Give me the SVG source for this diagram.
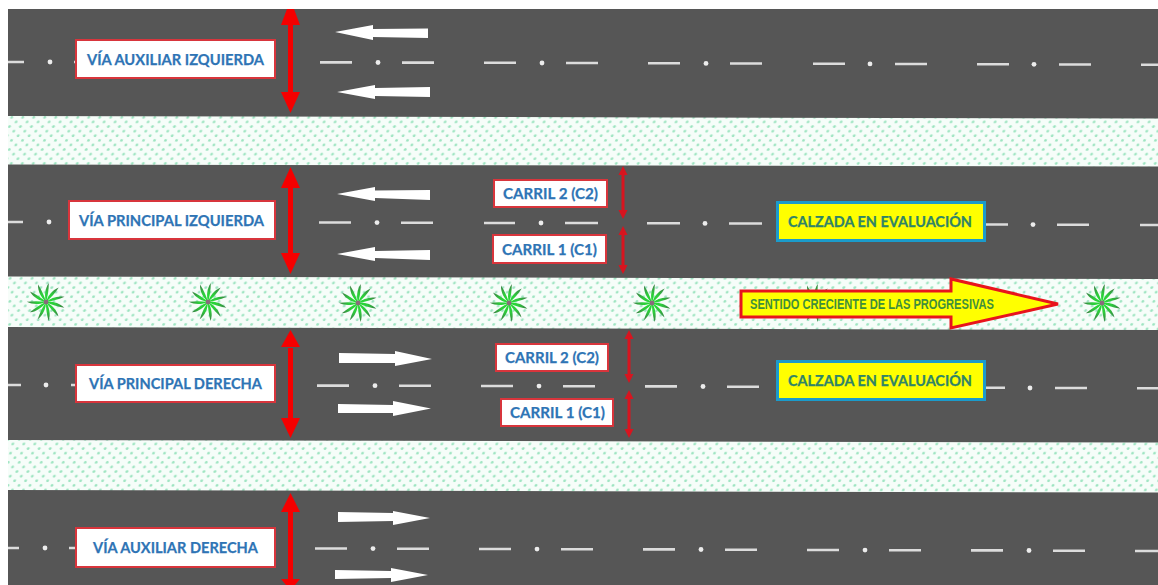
<svg xmlns="http://www.w3.org/2000/svg" width="1158" height="585" viewBox="0 0 1158 585">
<style>
.road{fill:#565656}
.dash{stroke:#dcdcdc;stroke-width:2.6;fill:none}
.dot{fill:#ececec}
.wa{fill:#fff}
.lab{fill:#fff;stroke:#d8353c;stroke-width:2}
.cal{fill:#ffff00;stroke:#1b9bcb;stroke-width:3}
.lt{font-family:Lato,"Open Sans","Liberation Sans",sans-serif;font-weight:700;font-size:15.5px;fill:#2e74b5;stroke:#2e74b5;stroke-width:.25}
.ct{font-family:Lato,"Open Sans","Liberation Sans",sans-serif;font-weight:700;font-size:15.5px;fill:#2f8468;stroke:#2f8468;stroke-width:.25}
.at{font-family:"Liberation Sans",Arial,sans-serif;font-weight:700;font-size:14px;fill:#3f8f3c}
.red{fill:#f50000}
.redl{stroke:#f50000;fill:none}
.redd{fill:#d8141f}
.reddl{stroke:#d8141f;stroke-width:3;fill:none}
</style>
<defs>
<pattern id="grass" width="11" height="9.2" patternUnits="userSpaceOnUse" patternTransform="skewX(-14)">
<rect width="11" height="9.2" fill="#f6fdf9"/>
<circle cx="2.500" cy="2.300" r="1.400" fill="#9ce4c0"/>
<circle cx="8" cy="6.900" r="1.400" fill="#9ce4c0"/>
</pattern>
<linearGradient id="blade" x1="0" y1="0" x2="0" y2="-19" gradientUnits="userSpaceOnUse">
<stop offset="0" stop-color="#1fe02f"/>
<stop offset=".5" stop-color="#2ecb3c"/>
<stop offset="1" stop-color="#3a7a44"/>
</linearGradient>
<path id="b" d="M0 0C-1.600 -6 -1.400 -13 2.800 -19C2.800 -12 1.800 -6 0 0Z" fill="url(#blade)"/>
<g id="palm">
<use href="#b"/><use href="#b" transform="rotate(33)"/><use href="#b" transform="rotate(66)"/><use href="#b" transform="rotate(99)"/><use href="#b" transform="rotate(131)"/><use href="#b" transform="rotate(164)"/><use href="#b" transform="rotate(197)"/><use href="#b" transform="rotate(229)"/><use href="#b" transform="rotate(262)"/><use href="#b" transform="rotate(295)"/><use href="#b" transform="rotate(327)"/>
<circle r="2.400" fill="#8a6a7c"/>
</g>
</defs>
<rect width="1158" height="585" fill="#fff"/>
<rect x="8" y="116" width="1150" height="378" fill="url(#grass)"/>
<g id="roads">
<polygon class="road" points="8,9 1158,9 1158,118.500 8,116"/>
<polygon class="road" points="8,164.500 1158,166.500 1158,279 8,276.500"/>
<polygon class="road" points="8,327 1158,330 1158,442.500 8,440"/>
<polygon class="road" points="8,490 1158,492.500 1158,585 8,585"/>
</g>
<g id="palms">
<use href="#palm" x="46" y="302"/>
<use href="#palm" x="208" y="302"/>
<use href="#palm" x="358" y="303"/>
<use href="#palm" x="509" y="303"/>
<use href="#palm" x="652" y="303"/>
<use href="#palm" x="815" y="303"/>
<use href="#palm" x="1102" y="303"/>
</g>
<g id="lane-lines">
<path class="dash" d="M8 62H24M74 62H76M320 62.400H352M402 62.600H434M484 62.800H516M566 63H598M648 63.300H680M730 63.500H762M813 63.800H845M895 64H927M977 64.200H1009M1059 64.500H1091M1141 64.800H1158"/>
<path class="dash" d="M8 222H23M319 222.500H351M401 222.700H433M484 223H515M565 223H598M647 223.300H680M729 223.500H762M985 224.500H1008M1057 224.700H1089M1140 225H1158"/>
<path class="dash" d="M8 385H21M71 385H76M317 385.600H349M399 385.800H431M481 386H513M563 386.200H595M645 386.400H677M727 386.700H759M985 387.800H1005M1055 388H1087M1137 388.300H1158"/>
<path class="dash" d="M8 548H19M69 548H76M315 548.500H347M397 548.800H429M479 549H511M561 549.200H593M643 549.400H675M725 549.700H757M807 550H839M889 550.200H921M971 550.400H1003M1053 550.700H1085M1135 551H1158"/>
<g class="dot">
<circle cx="50" cy="62" r="2.400"/><circle cx="378" cy="62.500" r="2.400"/><circle cx="542" cy="63" r="2.400"/><circle cx="706" cy="63.400" r="2.400"/><circle cx="870" cy="63.900" r="2.400"/><circle cx="1034" cy="64.300" r="2.400"/>
<circle cx="49" cy="222" r="2.400"/><circle cx="377" cy="222.600" r="2.400"/><circle cx="541" cy="223" r="2.400"/><circle cx="705" cy="223.400" r="2.400"/><circle cx="1033" cy="224.600" r="2.400"/>
<circle cx="46" cy="385" r="2.400"/><circle cx="375" cy="385.700" r="2.400"/><circle cx="539" cy="386.100" r="2.400"/><circle cx="703" cy="386.500" r="2.400"/><circle cx="1030" cy="388" r="2.400"/>
<circle cx="45" cy="548" r="2.400"/><circle cx="373" cy="548.600" r="2.400"/><circle cx="537" cy="549.100" r="2.400"/><circle cx="701" cy="549.500" r="2.400"/><circle cx="865" cy="550.100" r="2.400"/><circle cx="1029" cy="550.500" r="2.400"/>
</g>
</g>
<g id="connectors">
<g id="width-arrows">
<path class="redl" stroke-width="5" d="M290.500 20V95M290.500 185V255M290.500 348V420M290.500 510V585"/>
<polygon class="red" points="287,9 294,9 300,25 281,25"/><polygon class="red" points="281,92 300,92 290.500,113"/>
<polygon class="red" points="290.500,167 300,188 281,188"/><polygon class="red" points="281,253 300,253 290.500,274"/>
<polygon class="red" points="290.500,330 300,347 281,347"/><polygon class="red" points="281,418 300,418 290.500,438"/>
<polygon class="red" points="290.500,493 300,512 281,512"/><polygon class="red" points="281,579 300,579 295,585 286,585"/>
</g>
<g id="lane-arrows">
<path class="reddl" d="M623 170V215M623 230V270M629 334V379M629 394V434"/>
<polygon class="redd" points="623,166 627.500,175 618.500,175"/><polygon class="redd" points="618.500,210 627.500,210 623,219"/>
<polygon class="redd" points="623,226 627.500,235 618.500,235"/><polygon class="redd" points="618.500,265 627.500,265 623,274"/>
<polygon class="redd" points="629,330 633.500,339 624.500,339"/><polygon class="redd" points="624.500,374 633.500,374 629,383"/>
<polygon class="redd" points="629,390 633.500,399 624.500,399"/><polygon class="redd" points="624.500,429 633.500,429 629,438"/>
</g>
<g id="traffic-arrows">
<polygon class="wa" points="335,32 373,25 373,29 428,28.500 428,38 373,37 373,40"/>
<polygon class="wa" points="337,92 375,85 375,88 430,87 430,97 375,96 375,99"/>
<polygon class="wa" points="337,194 375,187 375,190.500 430,190 430,200 375,198 375,201"/>
<polygon class="wa" points="337,254 375,247 375,251 430,250 430,260 375,258 375,261"/>
<polygon class="wa" points="339,353 395,354 395,351 432,359 395,366 395,363 339,363"/>
<polygon class="wa" points="338,404 393,405 393,401 431,408.500 393,416 393,413 338,413"/>
<polygon class="wa" points="338,512 393,513 393,511 430,518 393,525 393,521 338,522"/>
<polygon class="wa" points="335,570 391,571 391,568 428,575 391,582 391,578 335,579"/>
</g>
</g>
<g id="via-aux-izq"><rect class="lab" x="76" y="40" width="199" height="38"/><text class="lt" x="87" y="64.500" textLength="177" lengthAdjust="spacingAndGlyphs">VÍA AUXILIAR IZQUIERDA</text></g>
<g id="via-pri-izq"><rect class="lab" x="69" y="201" width="206" height="38"/><text class="lt" x="79" y="225.500" textLength="185" lengthAdjust="spacingAndGlyphs">VÍA PRINCIPAL  IZQUIERDA</text></g>
<g id="via-pri-der"><rect class="lab" x="76" y="365" width="199" height="37"/><text class="lt" x="89" y="389" textLength="173" lengthAdjust="spacingAndGlyphs">VÍA PRINCIPAL  DERECHA</text></g>
<g id="via-aux-der"><rect class="lab" x="76" y="528" width="199" height="39"/><text class="lt" x="93" y="553" textLength="165" lengthAdjust="spacingAndGlyphs">VÍA AUXILIAR DERECHA</text></g>
<g id="c2-izq"><rect class="lab" x="494" y="180" width="113" height="27"/><text class="lt" x="503" y="199" textLength="95" lengthAdjust="spacingAndGlyphs">CARRIL 2 (C2)</text></g>
<g id="c1-izq"><rect class="lab" x="493" y="235" width="113" height="28"/><text class="lt" x="502" y="254.500" textLength="95" lengthAdjust="spacingAndGlyphs">CARRIL 1 (C1)</text></g>
<g id="c2-der"><rect class="lab" x="496" y="344" width="112" height="27"/><text class="lt" x="505" y="363" textLength="94" lengthAdjust="spacingAndGlyphs">CARRIL 2 (C2)</text></g>
<g id="c1-der"><rect class="lab" x="501" y="399" width="112" height="27"/><text class="lt" x="510" y="418" textLength="95" lengthAdjust="spacingAndGlyphs">CARRIL 1 (C1)</text></g>
<g id="calzada-izq"><rect class="cal" x="777.500" y="202.500" width="207" height="38"/><text class="ct" x="788" y="226.500" textLength="184" lengthAdjust="spacingAndGlyphs">CALZADA EN EVALUACIÓN</text></g>
<g id="calzada-der"><rect class="cal" x="777.500" y="361.500" width="207" height="38"/><text class="ct" x="788" y="386" textLength="184" lengthAdjust="spacingAndGlyphs">CALZADA EN EVALUACIÓN</text></g>
<g id="sentido"><polygon points="741,291 951,291 951,279 1058,304 951,328 951,317 741,317" fill="#ffff00" stroke="#e8141c" stroke-width="3"/><text class="at" x="750" y="309" textLength="244" lengthAdjust="spacingAndGlyphs">SENTIDO CRECIENTE DE LAS PROGRESIVAS</text></g>
</svg>
